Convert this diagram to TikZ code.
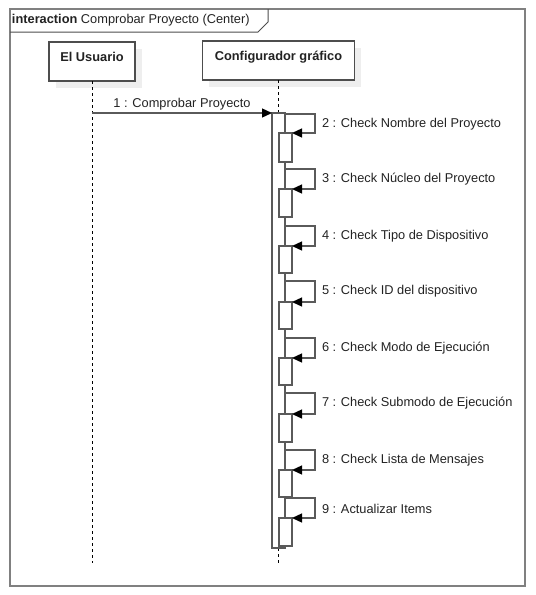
\documentclass[tikz,border=0pt]{standalone}
\usepackage{fontspec}
\setmainfont{Liberation Sans}
\usetikzlibrary{arrows.meta,calc}
\definecolor{framec}{HTML}{808080}
\definecolor{linec}{HTML}{5A5A5A}
\definecolor{boxc}{HTML}{4D4D4D}
\definecolor{shadowc}{HTML}{EEEEEE}
\definecolor{textc}{HTML}{222222}
\begin{document}
\begin{tikzpicture}[x=1pt,y=-1pt,
  every node/.style={font=\fontsize{12.8}{15}\selectfont, text=textc, inner sep=0pt, outer sep=0pt},
  frameline/.style={draw=framec, line width=1.5pt},
  lifebox/.style={draw=boxc, line width=1.3pt, fill=white, rectangle, anchor=north west},
  boxlabel/.style={font=\fontsize{12.8}{15}\selectfont\bfseries, anchor=north},
  life/.style={draw=black, line width=1pt, dash pattern=on 3pt off 3pt},
  actbar/.style={draw=linec, line width=1.3pt, fill=white, rectangle, anchor=north west, minimum width=13pt},
  call/.style={draw=linec, line width=1.3pt, -{Triangle[length=10pt,width=9pt,color=black,fill=black]}},
  msglabel/.style={anchor=west}
]
\useasboundingbox (0,0) rectangle (536,595);
% frame
\draw[frameline] (10,9) rectangle (525,586);
\draw[draw=boxc, line width=1pt] (10,32) -- (258,32) -- (268,22) -- (268,9);
\node[anchor=west] (title) at (12,20.5) {\textbf{interaction} Comprobar Proyecto (Center)};
% lifeline boxes
\fill[shadowc] (56,49) rectangle (142,88);
\fill[shadowc] (209,48) rectangle (361,87);
\node[lifebox, minimum width=86pt, minimum height=39pt] (u) at (49,42) {};
\node[lifebox, minimum width=152pt, minimum height=39pt] (c) at (202.5,41) {};
\node[boxlabel] (ul) at ($(u.north)+(0,10)$) {El Usuario};
\node[boxlabel] (cl) at ($(c.north)+(0,10)$) {Configurador gráfico};
% lifelines
\coordinate (uend) at (u.south |- 0,563);
\coordinate (cend) at (c.south |- 0,563);
\node[actbar, minimum height=435pt] (m) at (272,113) {};
\draw[life] (u.south) -- (uend);
\draw[life] (c.south) -- (m.north -| c.south);
\draw[life] (m.south -| c.south) -- (cend);
\node[actbar, minimum height=435pt] (m) at (272,113) {};
% message 1
\draw[call] (u.south |- m.north west) -- (m.north west);
\node[anchor=south] (l1) at ($(u.south |- m.north west)!0.5!(m.north west)+(0,-3)$) {1 : Comprobar Proyecto};
% self calls
\foreach \n/\t/\a/\e/\txt in {
  2/114/133/162/{Check Nombre del Proyecto},
  3/169/189/217/{Check Núcleo del Proyecto},
  4/226/246/273/{Check Tipo de Dispositivo},
  5/281/302/329/{Check ID del dispositivo},
  6/338/358/385/{Check Modo de Ejecución},
  7/393/414/442/{Check Submodo de Ejecución},
  8/450/470/497/{Check Lista de Mensajes},
  9/498/518/546/{Actualizar Items}} {
  \node[actbar, minimum height={\e-\a}] (b\n) at (279,\a) {};
  \coordinate (t\n) at (315,\t);
  \draw[call] (m.east |- t\n) -- (t\n) -- (t\n |- b\n.north east) -- (b\n.north east);
  \node[msglabel] (l\n) at (322,\t+10.5) {\n\ : \txt};
}
\end{tikzpicture}
\end{document}
